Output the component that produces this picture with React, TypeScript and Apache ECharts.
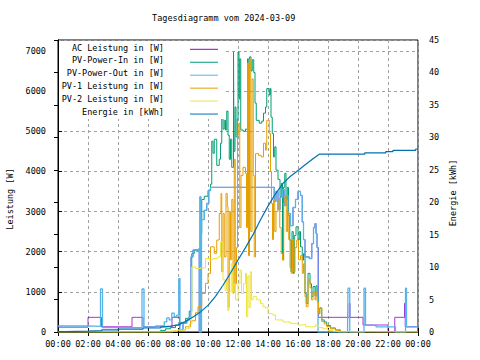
import React, { useEffect, useRef } from "react";
import * as echarts from "echarts";

const FONT = "DejaVu Sans Mono";
const chartTitle = "Tagesdiagramm vom 2024-03-09";
const yLeftName = "Leistung [W]";
const yRightName = "Energie [kWh]";
const seriesNames = [
  "AC Leistung in [W]",
  "PV-Power-In in [W]",
  "PV-Power-Out in [W]",
  "PV-1 Leistung in [W]",
  "PV-2 Leistung in [W]",
  "Energie in [kWh]",
];
const seriesColors = ["#9400d3", "#009e73", "#56b4e9", "#e69f00", "#f0e442", "#0072b2"];
const seriesWidths = [0.8, 1, 1.3, 1, 1, 1.2];

type Pt = [string, number];

const acPower: Pt[] = [
  ["00:00", 120], ["02:00", 365], ["02:54", 130], ["04:56", 365], ["05:40", 130],
  ["07:36", 365], ["08:06", 60], ["08:20", 220], ["08:35", 300], ["08:45", 380],
  ["08:52", 1870], ["09:00", 2040], ["09:22", 2060], ["09:25", 0], ["09:28", 3370],
  ["09:31", 0], ["09:34", 2800], ["09:45", 3030], ["09:55", 3200], ["10:03", 3530],
  ["10:10", 3600], ["14:20", 3600], ["14:25", 3250], ["14:32", 3500], ["14:40", 3050],
  ["14:48", 3350], ["14:58", 3550], ["15:05", 3150], ["15:12", 3400], ["15:20", 2950],
  ["15:30", 2650], ["15:40", 3100], ["15:50", 3300], ["16:00", 3500], ["16:10", 3400],
  ["16:17", 2740], ["16:22", 2300], ["16:28", 1870], ["16:45", 1830], ["16:55", 2200],
  ["17:02", 2600], ["17:08", 2700], ["17:12", 2450], ["17:16", 2100], ["17:22", 365],
  ["19:25", 715], ["19:28", 365], ["20:20", 175], ["22:00", 0], ["22:27", 365],
  ["23:06", 715], ["23:09", 130], ["24:00", 130],
];

const pvPowerIn: Pt[] = [
  ["00:00", 0], ["06:40", 0], ["06:50", 40], ["07:10", 80], ["07:30", 110], ["07:50", 170],
  ["08:10", 240], ["08:30", 340], ["08:45", 520], ["08:55", 1950], ["09:05", 2040], ["09:20", 2060],
  ["09:30", 2450], ["09:35", 3300], ["09:45", 3380], ["10:00", 3520], ["10:10", 3680], ["10:15", 4750],
  ["10:20", 4450], ["10:25", 4800], ["10:35", 4150], ["10:45", 4300], ["10:50", 4700], ["10:55", 5530],
  ["11:00", 5050], ["11:05", 5270], ["11:10", 5030], ["11:15", 5500], ["11:20", 4900], ["11:25", 4300],
  ["11:30", 4800], ["11:35", 4100], ["11:42", 6970], ["11:44", 4500], ["11:48", 5600], ["11:52", 4860],
  ["11:57", 5300], ["12:00", 6970], ["12:04", 5800], ["12:07", 6800], ["12:11", 5030], ["12:20", 5000],
  ["12:30", 5050], ["12:38", 6800], ["12:43", 5600], ["12:46", 6850], ["12:52", 6500], ["12:57", 6780],
  ["13:03", 6460], ["13:08", 5700], ["13:13", 5270], ["13:25", 5200], ["13:35", 5250], ["13:42", 5450],
  ["13:50", 5600], ["13:55", 6060], ["14:05", 5900], ["14:09", 6060], ["14:12", 5350], ["14:17", 4940],
  ["14:22", 4360], ["14:27", 4610], ["14:32", 4030], ["14:40", 3800], ["14:48", 3370], ["14:53", 3700],
  ["14:58", 1800], ["15:02", 3600], ["15:07", 3950], ["15:12", 3300], ["15:17", 3600], ["15:22", 2900],
  ["15:27", 2290], ["15:32", 1500], ["15:36", 2500], ["15:41", 1460], ["15:45", 2400], ["15:52", 2620],
  ["16:00", 2290], ["16:05", 2500], ["16:10", 2120], ["16:17", 1790], ["16:22", 1950], ["16:28", 960],
  ["16:33", 710], ["16:40", 1460], ["16:48", 1200], ["16:54", 880], ["17:00", 1130], ["17:08", 900],
  ["17:12", 1150], ["17:17", 880], ["17:22", 460], ["17:27", 600], ["17:35", 300], ["17:45", 250],
  ["17:55", 160], ["18:10", 100], ["18:30", 50], ["18:50", 10], ["19:00", 0], ["24:00", 0],
];

const pvPowerOut: Pt[] = [
  ["00:00", 150], ["02:00", 140], ["02:50", 1070], ["02:58", 107], ["05:36", 1070], ["05:44", 130],
  ["06:30", 150], ["07:05", 250], ["07:15", 350], ["07:25", 300], ["07:35", 470], ["07:45", 380],
  ["07:55", 420], ["08:03", 1330], ["08:08", 60], ["08:20", 220], ["08:35", 300], ["08:45", 380],
  ["08:52", 1870], ["09:00", 2040], ["09:22", 2060], ["09:25", 0], ["09:28", 3370], ["09:31", 0],
  ["09:34", 2800], ["09:45", 3030], ["09:55", 3200], ["10:03", 3530], ["10:10", 3600], ["14:20", 3600],
  ["14:25", 3250], ["14:32", 3500], ["14:40", 3050], ["14:48", 3350], ["14:58", 3550], ["15:05", 3150],
  ["15:12", 3400], ["15:20", 2950], ["15:30", 2650], ["15:40", 3100], ["15:50", 3300], ["16:00", 3500],
  ["16:10", 3400], ["16:17", 2740], ["16:22", 2300], ["16:28", 1870], ["16:45", 1830], ["16:55", 2200],
  ["17:02", 2600], ["17:08", 2700], ["17:12", 2450], ["17:16", 2100], ["17:20", 0], ["19:18", 0],
  ["19:20", 1090], ["19:27", 0], ["20:24", 1090], ["20:30", 165], ["21:12", 130], ["22:30", 0],
  ["23:10", 1090], ["23:14", 130], ["24:00", 130],
];

const pv1Power: Pt[] = [
  ["00:00", 0], ["07:00", 0], ["07:30", 20], ["08:00", 50], ["08:30", 130], ["08:50", 280],
  ["09:10", 480], ["09:20", 630], ["09:35", 960], ["09:50", 1210], ["10:00", 1460], ["10:10", 2120],
  ["10:25", 1960], ["10:35", 2290], ["10:45", 2950], ["10:52", 3450], ["10:55", 1500], ["11:00", 2950],
  ["11:05", 1870], ["11:12", 3450], ["11:17", 3120], ["11:20", 620], ["11:25", 3000], ["11:30", 1800],
  ["11:35", 3300], ["11:40", 1000], ["11:45", 4300], ["11:49", 1200], ["11:54", 2100], ["11:58", 4900],
  ["12:03", 5200], ["12:07", 2600], ["12:12", 3900], ["12:20", 4100], ["12:30", 3950], ["12:34", 2600],
  ["12:38", 6700], ["12:42", 1900], ["12:46", 6800], ["12:51", 2500], ["12:56", 6300], ["13:01", 3900],
  ["13:05", 1870], ["13:10", 4440], ["13:22", 4400], ["13:33", 4360], ["13:42", 4700], ["13:50", 4530],
  ["13:55", 5270], ["14:05", 4940], ["14:10", 4000], ["14:14", 3200], ["14:18", 2300], ["14:22", 3280],
  ["14:27", 2500], ["14:32", 3000], ["14:40", 3300], ["14:47", 2600], ["14:53", 1950], ["14:58", 1790],
  ["15:03", 3200], ["15:08", 3400], ["15:13", 2500], ["15:18", 3000], ["15:23", 2300], ["15:28", 1600],
  ["15:33", 1460], ["15:38", 2300], ["15:43", 1500], ["15:48", 2100], ["15:55", 2290], ["16:02", 1800],
  ["16:10", 1900], ["16:17", 1460], ["16:22", 1700], ["16:28", 880], ["16:33", 630], ["16:40", 1300],
  ["16:48", 1100], ["16:54", 800], ["17:00", 1000], ["17:08", 800], ["17:12", 1000], ["17:17", 750],
  ["17:22", 450], ["17:27", 590], ["17:35", 260], ["17:45", 200], ["17:55", 130], ["18:10", 80],
  ["18:30", 40], ["18:50", 10], ["19:00", 0], ["24:00", 0],
];

const pv2Power: Pt[] = [
  ["00:00", 0], ["07:20", 0], ["07:40", 30], ["08:00", 50], ["08:30", 80], ["08:45", 200],
  ["08:55", 1620], ["09:10", 1580], ["09:30", 1600], ["09:50", 1830], ["10:05", 1800], ["10:20", 1830],
  ["10:40", 1870], ["10:50", 2240], ["11:00", 1300], ["11:08", 1040], ["11:14", 1300], ["11:19", 540],
  ["11:24", 1000], ["11:33", 1700], ["11:38", 960], ["11:44", 1200], ["11:50", 800], ["12:00", 1200],
  ["12:08", 1540], ["12:14", 960], ["12:22", 1200], ["12:30", 1460], ["12:34", 380], ["12:39", 1400],
  ["12:44", 600], ["12:49", 1500], ["12:54", 800], ["13:00", 880], ["13:15", 800], ["13:30", 710],
  ["13:40", 630], ["13:50", 600], ["14:00", 460], ["14:10", 450], ["14:20", 420], ["14:30", 300],
  ["14:50", 300], ["15:00", 250], ["15:30", 215], ["16:00", 175], ["16:15", 190], ["16:30", 130],
  ["17:00", 130], ["17:10", 180], ["17:20", 110], ["17:40", 80], ["18:00", 40], ["18:20", 20],
  ["18:40", 0], ["24:00", 0],
];

const energy: Pt[] = [
  ["00:00", 0.05], ["00:25", 0.05], ["00:25", 0.12], ["02:00", 0.12], ["02:00", 0.2], ["02:55", 0.2],
  ["02:55", 0.33], ["04:00", 0.33], ["04:00", 0.45], ["05:40", 0.45], ["05:40", 0.62], ["06:50", 0.62],
  ["06:50", 0.75], ["07:30", 0.9], ["08:00", 1.1], ["08:30", 1.6], ["09:00", 2.3], ["09:30", 3.1],
  ["10:00", 4.1], ["10:30", 5.5], ["11:00", 7.2], ["11:30", 9.1], ["12:00", 11.1], ["12:30", 13.0],
  ["13:00", 15.0], ["13:30", 17.3], ["14:00", 19.4], ["14:30", 21.3], ["15:00", 22.9], ["15:30", 24.0],
  ["16:00", 24.9], ["16:30", 25.8], ["17:00", 26.7], ["17:25", 27.4], ["20:27", 27.4], ["20:27", 27.6],
  ["21:51", 27.6], ["21:51", 27.8], ["22:20", 27.8], ["22:20", 28.0], ["23:51", 28.0], ["23:51", 28.2],
  ["24:00", 28.2],
];

const xTicks = { min: 0, max: 24, interval: 2 };
const yLeft = { min: 0, max: 7270, interval: 1000 };
const yRight = { min: 0, max: 45, interval: 5 };

const toH = (t: string) => {
  const [h, m] = t.split(":").map(Number);
  return h + m / 60;
};
const conv = (pts: Pt[]) => pts.map(([t, v]) => [toH(t), v]);
const pad = (n: number) => (n < 10 ? "0" + n : "" + n);

export default function App() {
  const ref = useRef<HTMLDivElement>(null);
  useEffect(() => {
    const chart = echarts.init(ref.current!, undefined, { renderer: "svg" });
    const powerData = [acPower, pvPowerIn, pvPowerOut, pv1Power, pv2Power];
    const labelStyle = { color: "#000", fontSize: 8.5, fontFamily: FONT };
    const gridLine = { show: true, lineStyle: { color: "#a0a0a0", type: [3, 3], width: 1 } };
    const blackLine = { show: true, lineStyle: { color: "#000", width: 1 } };
    const tick = { show: true, inside: true, length: 4, lineStyle: { color: "#000" } };

    const legendTop = 47.5;
    const legendStep = 12.95;
    const legendGraphics: any[] = [
      { type: "rect", z: 50, shape: { x: 59, y: 41, width: 165, height: 78 }, style: { fill: "#fff" } },
    ];
    seriesNames.forEach((n, i) => {
      legendGraphics.push({
        type: "text",
        z: 51,
        x: 164,
        y: legendTop + i * legendStep,
        style: { text: n, font: `8.5px "${FONT}"`, fill: "#000", align: "right", verticalAlign: "middle", textAlign: "right", textVerticalAlign: "middle" },
      });
      legendGraphics.push({
        type: "line",
        z: 51,
        shape: { x1: 190, y1: legendTop + 1.8 + i * legendStep, x2: 218, y2: legendTop + 1.8 + i * legendStep },
        style: { stroke: seriesColors[i], lineWidth: 1 },
      });
    });

    chart.setOption({
      animation: false,
      backgroundColor: "#fff",
      textStyle: { fontFamily: FONT },
      grid: { left: 58, right: 62, top: 40, bottom: 28, show: true, borderColor: "#000", borderWidth: 1, backgroundColor: "transparent" },
      xAxis: [
        {
          type: "value", ...xTicks, position: "bottom",
          axisLine: blackLine, axisTick: tick,
          axisLabel: { ...labelStyle, margin: 7, showMinLabel: true, showMaxLabel: true, formatter: (v: number) => pad(Math.round(v) % 24) + ":00" },
          splitLine: gridLine,
        },
        {
          type: "value", ...xTicks, position: "top",
          axisLine: blackLine, axisTick: tick, axisLabel: { show: false }, splitLine: { show: false },
        },
      ],
      yAxis: [
        {
          type: "value", ...yLeft, position: "left",
          axisLine: blackLine, axisTick: tick,
          axisLabel: { ...labelStyle, margin: 12, showMaxLabel: false, formatter: (v: number) => String(Math.round(v)) },
          splitLine: gridLine,
        },
        {
          type: "value", ...yRight, position: "right",
          axisLine: blackLine, axisTick: tick,
          axisLabel: { ...labelStyle, margin: 11, formatter: (v: number) => String(Math.round(v)) },
          splitLine: { show: false },
        },
      ],
      graphic: [
        { type: "text", x: 223.7, y: 18, style: { text: chartTitle, font: `8.5px "${FONT}"`, fill: "#000", align: "center", verticalAlign: "middle", textAlign: "center", textVerticalAlign: "middle" } },
        { type: "text", x: 10, y: 199, rotation: Math.PI / 2, style: { text: yLeftName, font: `8.5px "${FONT}"`, fill: "#000", align: "center", verticalAlign: "middle", textAlign: "center", textVerticalAlign: "middle" } },
        { type: "text", x: 453, y: 193, rotation: Math.PI / 2, style: { text: yRightName, font: `8.5px "${FONT}"`, fill: "#000", align: "center", verticalAlign: "middle", textAlign: "center", textVerticalAlign: "middle" } },
        ...legendGraphics,
      ],
      series: [
        ...powerData.map((d, i) => ({
          name: seriesNames[i],
          type: "line",
          step: "end",
          data: conv(d),
          showSymbol: false,
          z: 2 + i,
          xAxisIndex: 0,
          yAxisIndex: 0,
          lineStyle: { color: seriesColors[i], width: seriesWidths[i] },
          itemStyle: { color: seriesColors[i] },
        })),
        {
          name: seriesNames[5],
          type: "line",
          data: conv(energy),
          showSymbol: false,
          z: 8,
          xAxisIndex: 0,
          yAxisIndex: 1,
          lineStyle: { color: seriesColors[5], width: seriesWidths[5] },
          itemStyle: { color: seriesColors[5] },
        },
      ],
    });
    return () => chart.dispose();
  }, []);
  return <div ref={ref} style={{ position: "fixed", left: 0, top: 0, width: 480, height: 360 }} />;
}
